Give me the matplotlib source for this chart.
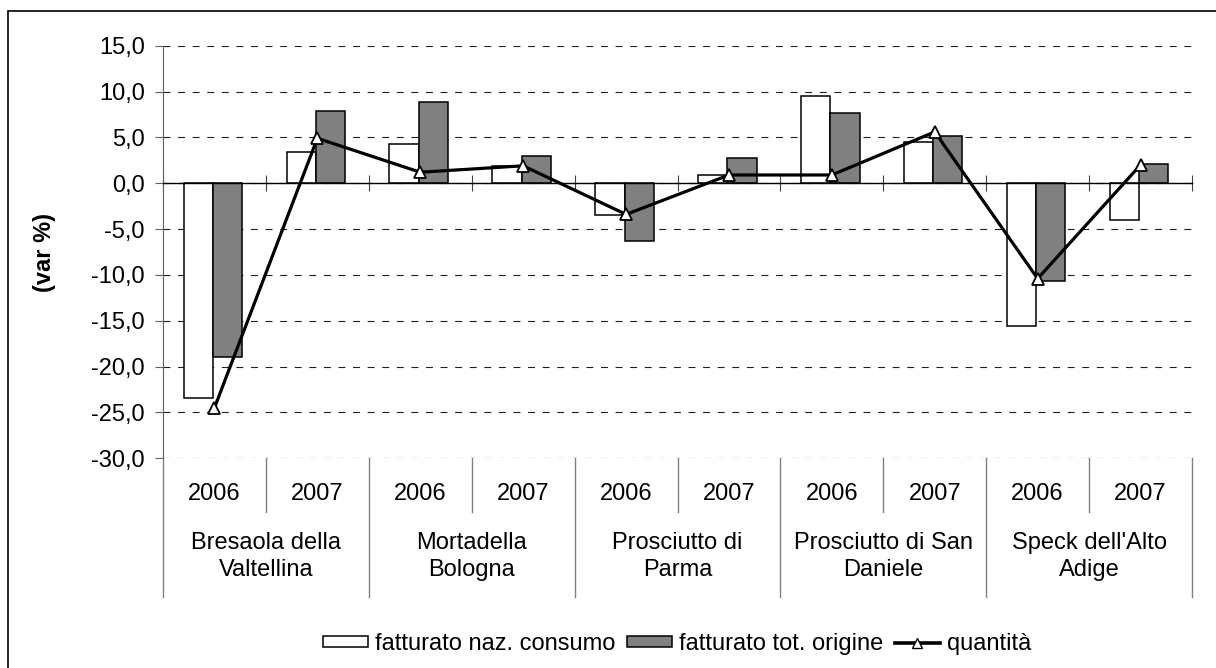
import numpy as np
import matplotlib.pyplot as plt
from matplotlib.patches import Patch, Rectangle
from matplotlib.lines import Line2D
from matplotlib.ticker import FuncFormatter
import matplotlib.transforms as mtransforms

plt.rcParams['font.family'] = ['Liberation Sans', 'DejaVu Sans']
plt.rcParams['lines.scale_dashes'] = False

# Data (var %)
products = ["Bresaola della\nValtellina", "Mortadella\nBologna", "Prosciutto di\nParma",
            "Prosciutto di San\nDaniele", "Speck dell'Alto\nAdige"]
years = ["2006", "2007"]
fatt_naz_consumo = [-23.4, 3.4, 4.3, 1.9, -3.5, 0.9, 9.5, 4.5, -15.6, -4.0]
fatt_tot_origine = [-19.0, 7.9, 8.9, 3.0, -6.3, 2.8, 7.7, 5.1, -10.7, 2.1]
quantita = [-24.5, 4.9, 1.2, 1.9, -3.4, 0.9, 0.9, 5.6, -10.4, 2.0]

fs = 17
W, H = 1216, 668
fig = plt.figure(figsize=(W / 100, H / 100), dpi=100)
ax = fig.add_axes([163 / W, 1 - 458.3 / H, 1029 / W, 412.6 / H])

x = np.arange(len(fatt_naz_consumo))
bw = 0.284
ax.bar(x - 0.157, fatt_naz_consumo, bw, color='white', edgecolor='black', linewidth=1.1, zorder=3)
ax.bar(x + 0.127, fatt_tot_origine, bw, color='#808080', edgecolor='black', linewidth=1.1, zorder=3)
ax.plot(x, quantita, color='black', linewidth=2.3, marker='^', markersize=9,
        markerfacecolor='white', markeredgecolor='black', markeredgewidth=1.3, zorder=4)

ax.set_xlim(-0.5, len(x) - 0.5)
ax.set_ylim(-30, 15)
ax.set_yticks(np.arange(-30, 16, 5))
ax.yaxis.set_major_formatter(FuncFormatter(lambda v, p: f"{v:.1f}".replace('.', ',')))
ax.yaxis.grid(True, linestyle=(0, (5, 5.5)), color='#202020', linewidth=0.8)
ax.set_axisbelow(True)

for s in ['top', 'right']:
    ax.spines[s].set_visible(False)
ax.spines['left'].set_color('#606060')
ax.spines['bottom'].set_position(('data', 0))
ax.spines['bottom'].set_color('black')
ax.spines['bottom'].set_linewidth(1.0)
ax.spines['bottom'].set_zorder(5)

ax.set_xticks(np.arange(-0.5, len(x), 1.0))
ax.tick_params(axis='x', direction='inout', length=12, color='#404040', labelbottom=False)
ax.tick_params(axis='y', direction='out', length=6, color='#606060', labelsize=fs, pad=7)

ax.set_ylabel('(var %)', fontsize=fs, fontweight='bold')
ax.yaxis.set_label_coords(-0.104, 0.5)

# two-level category axis below the plot
trans = mtransforms.blended_transform_factory(ax.transData, ax.transAxes)
for i in x:
    ax.text(i, -0.0865, years[i % 2], transform=trans, ha='center', va='center', fontsize=fs)
for g, name in enumerate(products):
    ax.text(2 * g + 0.5, -0.238, name, transform=trans, ha='center', va='center',
            fontsize=fs, linespacing=1.3)
for b in np.arange(0.5, len(x), 2):
    ax.plot([b, b], [0, -0.129], transform=trans, color='#808080', lw=1.0, clip_on=False)
for b in np.arange(-0.5, len(x) + 0.5, 2):
    ax.plot([b, b], [0, -0.3354], transform=trans, color='#808080', lw=1.0, clip_on=False)

handles = [Patch(facecolor='white', edgecolor='black', linewidth=1.1),
           Patch(facecolor='#808080', edgecolor='black', linewidth=1.1),
           Line2D([], [], color='black', linewidth=2.6, marker='^', markersize=7,
                  markerfacecolor='white', markeredgecolor='black')]
labels = ['fatturato naz. consumo', 'fatturato tot. origine', 'quantità']
fig.legend(handles, labels, loc='center', bbox_to_anchor=(677 / W, 1 - 644 / H), ncol=3,
           frameon=False, fontsize=fs, handlelength=1.9, handleheight=0.35,
           handletextpad=0.3, columnspacing=0.5)

# outer chart border
fig.patches.append(Rectangle((8 / W, -0.05), 1.2, 1 - 11 / H + 0.05, transform=fig.transFigure,
                             fill=False, edgecolor='black', linewidth=1.2))

fig.savefig('out.png', dpi=100)
